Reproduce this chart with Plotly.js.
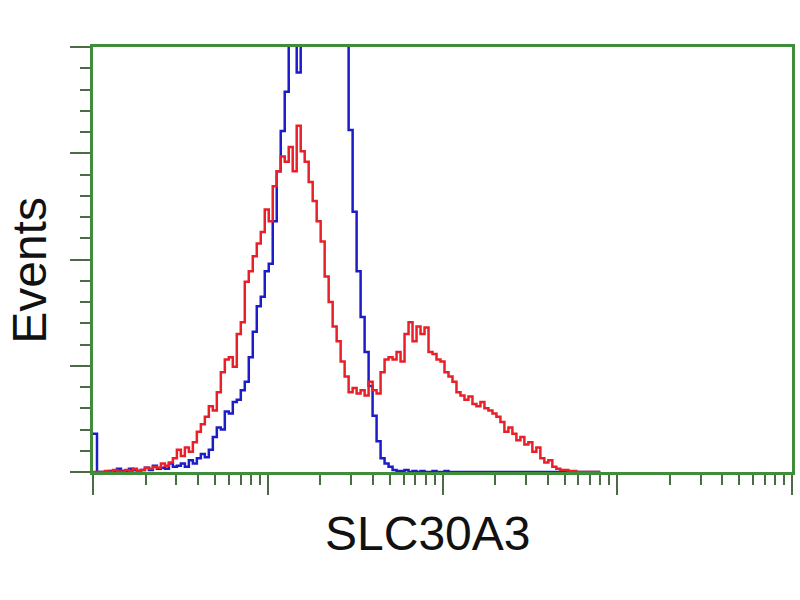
<!DOCTYPE html>
<html>
<head>
<meta charset="utf-8">
<script src="https://cdn.plot.ly/plotly-3.0.1.min.js"></script>
<style>html,body{margin:0;padding:0;background:#fff;}#chart{width:800px;height:600px;}</style>
</head>
<body>
<div id="chart"></div>
<script>
// Histogram channels: 175 log-spaced bins over 4 decades (1 .. 10^4)
const channelCount = 175;
const decades = 4;

// Events per channel, SLC30A3 stained sample (red)
const redCounts = [0,0,0,1,0,2,1,0,2,1,3,1,2,4,3,5,4,8,6,9,
  13,21,15,23,19,28,38,45,52,62,58,75,94,106,108,99,130,141,179,189,
  203,215,226,247,236,269,283,297,292,306,283,326,302,292,273,255,236,217,184,160,
  137,123,104,90,75,79,74,77,72,85,77,74,94,106,108,106,113,104,130,141,
  123,137,130,136,113,111,106,104,94,90,85,75,72,68,71,64,62,66,60,58,
  55,52,47,38,42,36,30,33,26,28,19,23,13,9,11,5,3,2,2,1,
  1,0,0,0,0,0,0,0];

// Events per channel, control (blue)
const blueCounts = [36,0,0,0,1,0,3,1,1,3,2,1,2,4,2,6,3,4,3,8,
  5,6,8,5,11,8,13,17,14,21,33,42,40,57,55,66,68,77,85,108,
  132,156,165,189,196,236,283,321,358,453,443,376,472,490,500,509,514,509,500,490,
  476,462,443,425,322,245,189,146,113,81,53,29,13,8,5,2,1,1,2,0,
  1,0,1,0,0,1,0,0,1,0,0,0,0,0,0,0,0,0,0,0,
  0,0,0,0,0,0,0,0,0,0,0,0,0,0,0,0,0,0,0,0,
  0,0,0,0,0,0,0,0];

const xTitle = "SLC30A3";
const yTitle = "Events";
const majorX = [1, 10, 100, 1000, 10000];
const minorX = [];
for (const d of [1, 10, 100, 1000]) for (let k = 2; k <= 9; k++) minorX.push(k * d);

function channelX(n) {
  const xs = [];
  for (let i = 0; i < n; i++) xs.push(Math.pow(10, i * decades / channelCount));
  return xs;
}

const traces = [
  {x: channelX(blueCounts.length), y: blueCounts, type: 'scatter', mode: 'lines',
   line: {shape: 'hv', color: '#1c1cc8', width: 2.5}, hoverinfo: 'skip'},
  {x: channelX(redCounts.length), y: redCounts, type: 'scatter', mode: 'lines',
   line: {shape: 'hv', color: '#e8202a', width: 2.5}, hoverinfo: 'skip'}
];

const axisGreen = '#3f8c3a';
const tickCol = '#4d6a48';

const layout = {
  width: 800, height: 600,
  margin: {l: 93, r: 8, t: 47, b: 128},
  paper_bgcolor: '#fff', plot_bgcolor: '#fff',
  showlegend: false,
  xaxis: {
    type: 'log', range: [0, 4], showgrid: false, zeroline: false,
    showline: true, mirror: true, linecolor: axisGreen, linewidth: 3,
    tickmode: 'array', tickvals: majorX, ticks: 'outside', ticklen: 20, tickwidth: 2, tickcolor: tickCol,
    showticklabels: false,
    minor: {tickmode: 'array', tickvals: minorX, ticks: 'outside', ticklen: 10, tickwidth: 2, tickcolor: tickCol, showgrid: false}
  },
  yaxis: {
    range: [0, 400], showgrid: false, zeroline: false,
    showline: true, mirror: true, linecolor: axisGreen, linewidth: 3,
    tickmode: 'linear', tick0: 0, dtick: 100, ticks: 'outside', ticklen: 20, tickwidth: 2, tickcolor: tickCol,
    showticklabels: false,
    minor: {dtick: 20, ticks: 'outside', ticklen: 10, tickwidth: 2, tickcolor: tickCol, showgrid: false}
  },
  annotations: [
    {text: xTitle, xref: 'paper', yref: 'paper', x: 0.479, y: -0.145, xanchor: 'center', yanchor: 'middle',
     showarrow: false, font: {family: 'Liberation Sans, Arial, sans-serif', size: 48, color: '#111'}},
    {text: yTitle, xref: 'paper', yref: 'paper', x: -0.092, y: 0.475, xanchor: 'center', yanchor: 'middle',
     textangle: -90, showarrow: false, font: {family: 'Liberation Sans, Arial, sans-serif', size: 48, color: '#111'}}
  ]
};

Plotly.newPlot('chart', traces, layout, {staticPlot: true, displayModeBar: false});
</script>
</body>
</html>
